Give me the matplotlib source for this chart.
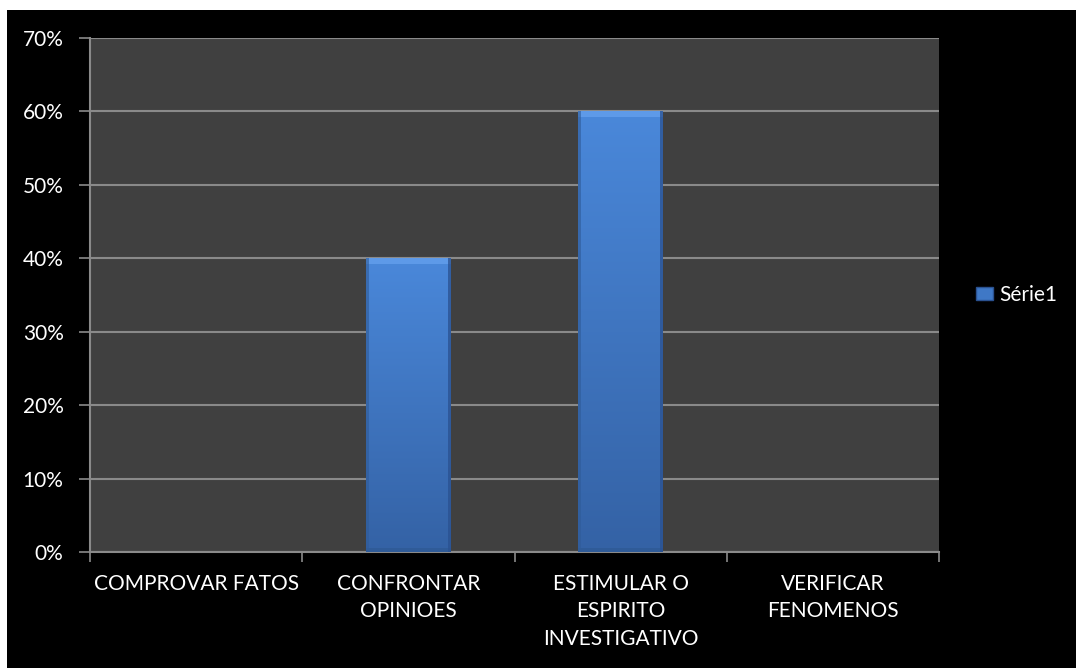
import matplotlib
matplotlib.use("Agg")
import matplotlib.pyplot as plt
import numpy as np
from matplotlib.patches import Rectangle
from matplotlib.colors import LinearSegmentedColormap
from matplotlib.ticker import FixedLocator, PercentFormatter

categories = ["COMPROVAR FATOS", "CONFRONTAR\nOPINIOES",
              "ESTIMULAR O\nESPIRITO\nINVESTIGATIVO", "VERIFICAR\nFENOMENOS"]
values = [0.0, 0.40, 0.60, 0.0]
series_name = "Série1"
yticks = [0, 0.1, 0.2, 0.3, 0.4, 0.5, 0.6, 0.7]

plt.rcParams['font.family'] = ['Lato', 'DejaVu Sans']

W, H = 1076, 668
fig = plt.figure(figsize=(W / 100, H / 100), dpi=100, facecolor="white")
fig.patches.append(Rectangle((7 / W, 0), 1 - 7 / W, (H - 10) / H,
                             transform=fig.transFigure, facecolor="black",
                             edgecolor="none", zorder=-10))

ax = fig.add_axes([90 / W, (H - 552) / H, (939 - 90) / W, (552 - 38) / H])
ax.set_facecolor("#404040")

x = np.arange(len(categories))
bars = ax.bar(x, values, width=0.4, color="#3f78c6", edgecolor="none", zorder=3,
              label=series_name)

cmap = LinearSegmentedColormap.from_list("bar", ["#3462a5", "#4a88da"])
grad = np.linspace(0, 1, 256).reshape(-1, 1)
for b in bars:
    h = b.get_height()
    if h <= 0:
        continue
    x0, w = b.get_x(), b.get_width()
    im = ax.imshow(grad, cmap=cmap, origin="lower", aspect="auto",
                   extent=[x0, x0 + w, 0, h], zorder=3.5)
    im.set_clip_path(b)
    # bevel highlights/shadows
    ax.add_patch(Rectangle((x0, h - 0.008), w, 0.008, facecolor="#5e9ae8",
                           edgecolor="none", zorder=4))
    ax.add_patch(Rectangle((x0, 0), w, 0.006, facecolor="#2f5b98",
                           edgecolor="none", zorder=4))
    ax.add_patch(Rectangle((x0, 0), w * 0.035, h, facecolor="#2f5b98",
                           edgecolor="none", alpha=0.6, zorder=4))
    ax.add_patch(Rectangle((x0 + w * 0.965, 0), w * 0.035, h, facecolor="#2a5190",
                           edgecolor="none", alpha=0.75, zorder=4))

ax.set_xlim(-0.5, len(categories) - 0.5)
ax.set_ylim(0, 0.7)
ax.yaxis.set_major_locator(FixedLocator(yticks))
ax.yaxis.set_major_formatter(PercentFormatter(1.0, decimals=0))
ax.grid(axis="y", color="#8a8a8a", linewidth=1.5, zorder=1)
ax.set_axisbelow(True)

ax.set_xticks(x)
ax.set_xticklabels(categories, color="white", fontsize=15, linespacing=1.45,
                   va="top")
ax.xaxis.set_minor_locator(FixedLocator(np.arange(-0.5, len(categories), 1.0)))
ax.tick_params(axis="x", which="major", length=0, pad=16)
ax.tick_params(axis="x", which="minor", length=7, width=1.2, color="#8a8a8a")
ax.tick_params(axis="y", length=8, width=1.2, color="#8a8a8a",
               labelcolor="white", labelsize=15, pad=11)

for s in ["top", "right"]:
    ax.spines[s].set_visible(False)
for s in ["left", "bottom"]:
    ax.spines[s].set_color("#8a8a8a")
    ax.spines[s].set_linewidth(1.5)

leg = ax.legend(loc="center left", bbox_to_anchor=(1.022, 0.5), frameon=False,
                fontsize=15, handlelength=0.8, handleheight=0.6,
                handletextpad=0.3, labelcolor="white")
leg.legend_handles[0].set_facecolor("#3f78c6")
leg.legend_handles[0].set_edgecolor("#2a5190")

fig.savefig("out.png", dpi=100, facecolor="white")
